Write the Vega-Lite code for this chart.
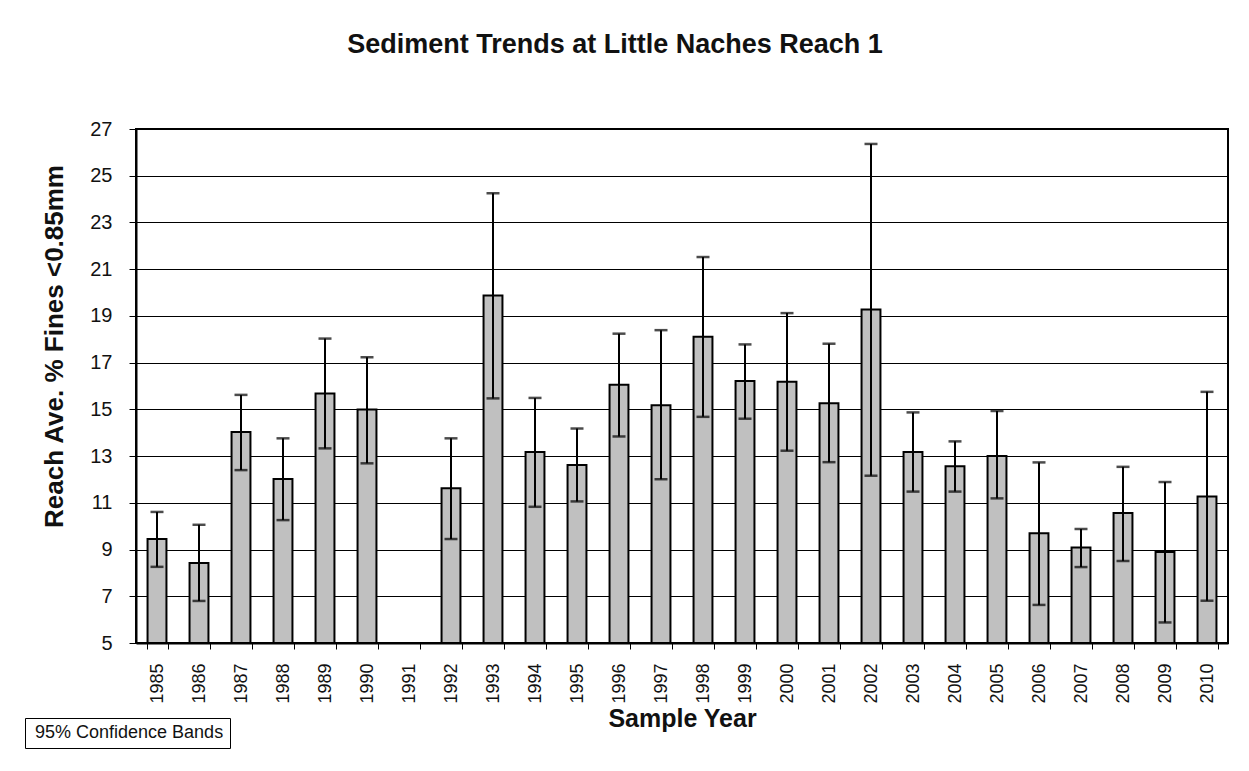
{
  "$schema": "https://vega.github.io/schema/vega-lite/v6.json",
  "width": 1092,
  "height": 514,
  "autosize": "none",
  "padding": {"left": 136, "top": 129, "right": 21, "bottom": 128},
  "background": "white",
  "config": {
    "font": "Liberation Sans",
    "view": {"stroke": "black", "strokeWidth": 2}
  },
  "title": {
    "text": "Sediment Trends at Little Naches Reach 1",
    "fontSize": 27,
    "fontWeight": "bold",
    "font": "Liberation Sans",
    "color": "#111",
    "anchor": "middle",
    "baseline": "alphabetic",
    "offset": 39,
    "dx": -67
  },
  "data": {
    "values": [
      {"year": "1985", "mean": 9.45, "lo": 8.26, "hi": 10.61},
      {"year": "1986", "mean": 8.42, "lo": 6.80, "hi": 10.06},
      {"year": "1987", "mean": 14.03, "lo": 12.40, "hi": 15.62},
      {"year": "1988", "mean": 12.02, "lo": 10.26, "hi": 13.76},
      {"year": "1989", "mean": 15.68, "lo": 13.33, "hi": 18.03},
      {"year": "1990", "mean": 14.99, "lo": 12.69, "hi": 17.23},
      {"year": "1991", "mean": null, "lo": null, "hi": null},
      {"year": "1992", "mean": 11.62, "lo": 9.45, "hi": 13.76},
      {"year": "1993", "mean": 19.87, "lo": 15.47, "hi": 24.25},
      {"year": "1994", "mean": 13.17, "lo": 10.83, "hi": 15.49},
      {"year": "1995", "mean": 12.62, "lo": 11.06, "hi": 14.18},
      {"year": "1996", "mean": 16.05, "lo": 13.84, "hi": 18.24},
      {"year": "1997", "mean": 15.18, "lo": 12.01, "hi": 18.39},
      {"year": "1998", "mean": 18.11, "lo": 14.68, "hi": 21.52},
      {"year": "1999", "mean": 16.21, "lo": 14.60, "hi": 17.78},
      {"year": "2000", "mean": 16.18, "lo": 13.23, "hi": 19.12},
      {"year": "2001", "mean": 15.26, "lo": 12.74, "hi": 17.81},
      {"year": "2002", "mean": 19.27, "lo": 12.16, "hi": 26.36},
      {"year": "2003", "mean": 13.17, "lo": 11.48, "hi": 14.87},
      {"year": "2004", "mean": 12.56, "lo": 11.48, "hi": 13.63},
      {"year": "2005", "mean": 13.00, "lo": 11.19, "hi": 14.93},
      {"year": "2006", "mean": 9.70, "lo": 6.63, "hi": 12.73},
      {"year": "2007", "mean": 9.09, "lo": 8.25, "hi": 9.88},
      {"year": "2008", "mean": 10.56, "lo": 8.51, "hi": 12.54},
      {"year": "2009", "mean": 8.89, "lo": 5.88, "hi": 11.89},
      {"year": "2010", "mean": 11.27, "lo": 6.81, "hi": 15.75}
    ]
  },
  "encoding": {
    "x": {
      "field": "year",
      "type": "ordinal",
      "scale": {
        "domain": ["1985","1986","1987","1988","1989","1990","1991","1992","1993","1994","1995","1996","1997","1998","1999","2000","2001","2002","2003","2004","2005","2006","2007","2008","2009","2010"],
        "paddingInner": 0.5,
        "paddingOuter": 0.25
      },
      "axis": {
        "title": "Sample Year",
        "titleFontSize": 25,
        "titleFontWeight": "bold",
        "titleColor": "#111",
        "titlePadding": 3,
        "labelAngle": 270,
        "labelFontSize": 18,
        "labelColor": "#111",
        "labelPadding": 14,
        "tickSize": 6,
        "tickColor": "black",
        "tickBand": "extent",
        "domainColor": "black",
        "domainWidth": 2,
        "grid": false
      }
    }
  },
  "layer": [
    {
      "mark": {"type": "bar", "fill": "#c0c0c0", "stroke": "black", "strokeWidth": 2, "width": {"band": 0.9}},
      "encoding": {
        "y": {
          "field": "mean",
          "type": "quantitative",
          "scale": {"domain": [5, 27], "nice": false, "zero": false},
          "axis": {
            "title": "Reach Ave. % Fines <0.85mm",
            "titleFontSize": 26,
            "titleFontWeight": "bold",
            "titleColor": "#111",
            "titlePadding": 22,
            "titleY": 217,
            "values": [5,6,7,8,9,10,11,12,13,14,15,16,17,18,19,20,21,22,23,24,25,26,27],
            "labelExpr": "datum.value % 2 == 1 ? datum.label : ''",
            "labelFontSize": 20,
            "labelColor": "#111",
            "labelPadding": 17,
            "tickSize": 7,
            "tickColor": "black",
            "domainColor": "black",
            "domainWidth": 2,
            "grid": true,
            "gridColor": "black",
            "gridWidth": 1,
            "gridOpacity": {"condition": {"test": "datum.value % 2 == 0", "value": 0}, "value": 1}
          }
        },
        "y2": {"datum": 5}
      }
    },
    {
      "mark": {"type": "rule", "strokeWidth": 2},
      "encoding": {
        "y": {"field": "lo", "type": "quantitative"},
        "y2": {"field": "hi"},
        "color": {
          "datum": "95% Confidence Bands",
          "type": "nominal",
          "scale": {"range": ["black"]},
          "legend": {
            "title": null,
            "orient": "none",
            "legendX": -111,
            "legendY": 589,
            "strokeColor": "black",
            "fillColor": "white",
            "padding": 6,
            "symbolOpacity": 0,
            "symbolSize": 0,
            "symbolStrokeWidth": 0,
            "labelOffset": -14,
            "labelLimit": 400,
            "labelFontSize": 18,
            "labelColor": "#111"
          }
        }
      }
    },
    {
      "mark": {"type": "tick", "color": "black", "thickness": 2.5, "size": 13, "orient": "horizontal"},
      "encoding": {"y": {"field": "lo", "type": "quantitative"}}
    },
    {
      "mark": {"type": "tick", "color": "black", "thickness": 2.5, "size": 13, "orient": "horizontal"},
      "encoding": {"y": {"field": "hi", "type": "quantitative"}}
    }
  ]
}
